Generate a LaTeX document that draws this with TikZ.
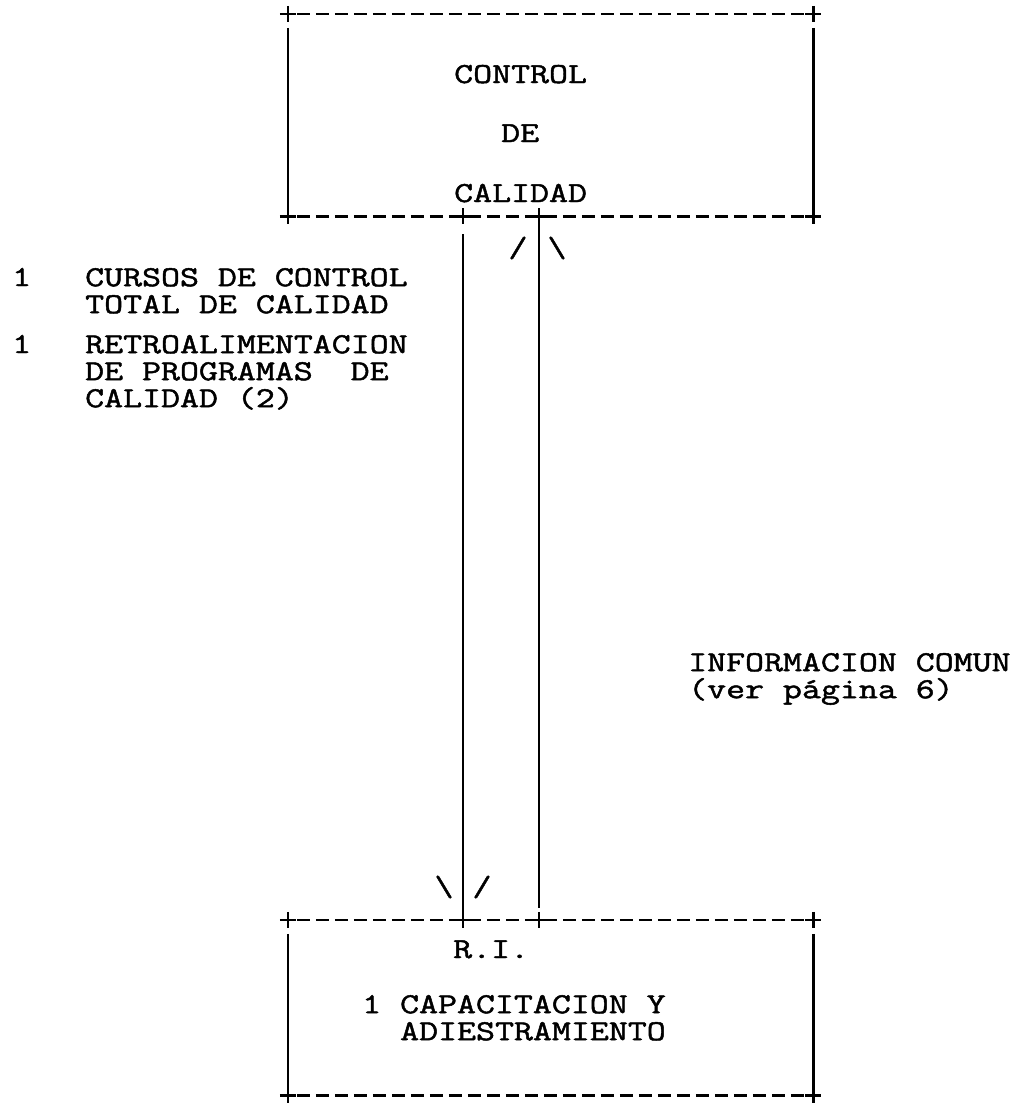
\documentclass[tikz,border=0pt]{standalone}
\usepackage{fontspec}
\setmonofont[FakeStretch=1.27, FakeBold=1.6]{Latin Modern Mono}
\usetikzlibrary{positioning, calc}

% alto fijo de la primera linea de un bloque
\newcommand{\alto}{\rule{0pt}{20pt}}

% marco de maquina de escribir: lineas de guiones arriba y abajo, lados continuos
\newcommand{\marco}[1]{%
  \draw[guion] (#1.north west) -- (#1.north east);
  \draw[guion] (#1.south west) -- (#1.south east);
  \draw[borde] ([yshift=-14pt]#1.north west) -- ([yshift=8pt]#1.south west);
  \draw[borde] ([yshift=-14pt]#1.north east) -- ([yshift=8pt]#1.south east);
  \foreach \e in {north west, north east, south west, south east}
    \pic at (#1.\e) {cruz};
}

\begin{document}
\lineskiplimit=-50pt\relax
\begin{tikzpicture}[
    x=1pt, y=-1pt,
    every node/.style={font=\ttfamily\fontsize{29}{27}\selectfont, inner sep=0pt},
    texto/.style={anchor=base west},
    bloque/.style={anchor=north west, align=left},
    caja/.style={minimum width=525pt, anchor=center},
    flecha/.style={anchor=center},
    borde/.style={line width=2.6pt},
    guion/.style={line width=2.6pt, dash pattern=on 13pt off 6pt, dash phase=-9pt},
    cruz/.pic={\draw[borde] (-8,0) -- (8,0) (0,-8) -- (0,8);}
]
    \useasboundingbox (0,0) rectangle (1019,1103);

    % cajas
    \node[caja, minimum height=202pt] (calidad) at (550.5,115) {};
    \node[caja, minimum height=175pt] (ri) at (550.5,1007.5) {};
    \marco{calidad}
    \marco{ri}

    % textos de las cajas
    \node[texto] (c1) at (454,83) {CONTROL};
    \node[texto] (c2) at (501,142) {DE};
    \node[texto] (c3) at (454,202) {CALIDAD};
    \node[texto] (r1) at (453,958) {R.I.};
    \node[bloque] (r2) at (362,993) {\alto 1 CAPACITACION Y\\\hspace*{38pt}ADIESTRAMIENTO};

    % flujos
    \coordinate (xa) at (463,0);
    \coordinate (xb) at (539,0);
    \draw[borde] ([yshift=-18pt]calidad.south -| xa) -- (ri.north -| xa);
    \draw[borde] (calidad.south -| xb) -- ([yshift=12pt]ri.north -| xb);
    \foreach \p in {calidad.south -| xa, calidad.south -| xb, ri.north -| xa, ri.north -| xb}
        \pic at (\p) {cruz};

    % puntas de flecha
    \node[flecha] (fa1) at (518,248) {/};
    \node[flecha] (fa2) at (557,248) {\textbackslash};
    \node[flecha] (fb1) at (444,887) {\textbackslash};
    \node[flecha] (fb2) at (482,887) {/};

    % etiquetas
    \node[texto] (n1) at (12,286) {1};
    \node[bloque] (e1) at (85,266) {\alto CURSOS DE CONTROL\\TOTAL DE CALIDAD};
    \node[texto] (n2) at (12,353) {1};
    \node[bloque] (e2) at (85,333) {\alto RETROALIMENTACION\\DE PROGRAMAS\ \ DE\\CALIDAD (2)};
    \node[bloque] (i1) at (688,651) {\alto INFORMACION COMUN\\(ver página 6)};
\end{tikzpicture}
\end{document}
